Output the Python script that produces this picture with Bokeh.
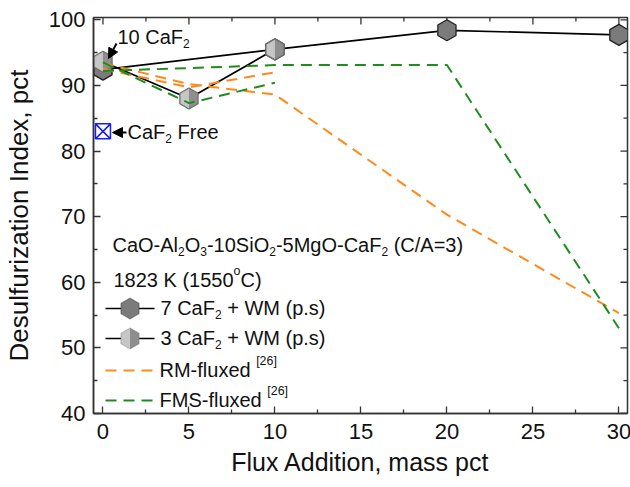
import math
from bokeh.plotting import figure
from bokeh.models import Range1d, FixedTicker, Label, Arrow, NormalHead, PolyAnnotation
from bokeh.embed import file_html
from bokeh.resources import INLINE

# ---- data -------------------------------------------------------------
flux_7caf2 = [0, 10, 20, 30]
di_7caf2 = [92.4, 95.5, 98.4, 97.7]

flux_3caf2 = [0, 5, 10]
di_3caf2 = [93.6, 88.0, 95.5]

flux_free = [0]
di_free = [83.0]

rm_short_x = [0, 5, 10]
rm_short_y = [92.5, 89.7, 92.0]
rm_long_x = [0, 5, 10, 20, 30]
rm_long_y = [93.4, 90.2, 88.6, 70.3, 55.3]

fms_long_x = [0, 10, 20, 30]
fms_long_y = [92.2, 93.1, 93.1, 53.0]
fms_short_x = [0, 5, 10]
fms_short_y = [93.5, 87.3, 90.4]

x_ticks = [0, 5, 10, 15, 20, 25, 30]
x_minor = [2.5, 7.5, 12.5, 17.5, 22.5, 27.5]
y_ticks = [40, 50, 60, 70, 80, 90, 100]
y_minor = [45, 55, 65, 75, 85, 95]

# ---- figure -----------------------------------------------------------
FONT = "Liberation Sans"
X0, X1 = -0.55, 30.5
Y0, Y1 = 40.0, 100.35
FW, FH = 534, 396
FL, FB = 91, 413  # frame left / bottom on the page
FRAME = "#333333"

p = figure(frame_width=FW, frame_height=FH,
           x_range=Range1d(X0, X1), y_range=Range1d(Y0, Y1),
           output_backend="svg", toolbar_location=None,
           min_border_left=FL, min_border_right=630 - FL - FW,
           min_border_top=FB - FH, min_border_bottom=487 - FB)
p.background_fill_color = "white"
p.border_fill_color = "white"
p.xgrid.visible = False
p.ygrid.visible = False
p.outline_line_color = FRAME
p.outline_line_width = 1.5

p.xaxis.ticker = FixedTicker(ticks=x_ticks, minor_ticks=x_minor)
p.yaxis.ticker = FixedTicker(ticks=y_ticks, minor_ticks=y_minor)
for ax in (p.xaxis[0], p.yaxis[0]):
    ax.axis_line_color = FRAME
    ax.axis_line_width = 1.5
    ax.major_tick_in = 7
    ax.major_tick_out = 0
    ax.minor_tick_in = 4
    ax.minor_tick_out = 0
    ax.major_tick_line_color = FRAME
    ax.minor_tick_line_color = FRAME
    ax.major_tick_line_width = 1.3
    ax.minor_tick_line_width = 1.3
    ax.major_label_text_font = FONT
    ax.major_label_text_font_size = "22px"
    ax.major_label_text_color = "#111111"
    ax.axis_label_text_font = FONT
    ax.axis_label_text_font_style = "normal"
    ax.axis_label_text_color = "#111111"
p.xaxis.axis_label = "Flux Addition, mass pct"
p.yaxis.axis_label = "Desulfurization Index, pct"
p.xaxis.axis_label_text_font_size = "25px"
p.yaxis.axis_label_text_font_size = "26px"
p.xaxis.major_label_standoff = 10
p.yaxis.major_label_standoff = 8
p.xaxis.axis_label_standoff = 6
p.yaxis.axis_label_standoff = 12

# mirrored inward ticks on the top and right edges of the frame
DX = (X1 - X0) / FW
DY = (Y1 - Y0) / FH
for ticks, ln in ((x_ticks, 7), (x_minor, 4)):
    p.segment(x0=ticks, y0=[Y1] * len(ticks), x1=ticks,
              y1=[Y1 - ln * DY] * len(ticks), line_color=FRAME, line_width=1.3)
for ticks, ln in ((y_ticks, 7), (y_minor, 4)):
    p.segment(x0=[X1] * len(ticks), y0=ticks, x1=[X1 - ln * DX] * len(ticks),
              y1=ticks, line_color=FRAME, line_width=1.3)

# ---- hexagon helpers (pointy top, radius in px) -------------------------
R_HEX = 10.5
FULL = [90, 30, -30, -90, -150, 150]
RIGHT_HALF = [90, 30, -30, -90]


def hex_patches(xs, ys, angles):
    px, py = [], []
    for x, y in zip(xs, ys):
        px.append([x + R_HEX * DX * math.cos(math.radians(a)) for a in angles])
        py.append([y + R_HEX * DY * math.sin(math.radians(a)) for a in angles])
    return px, py


def hex_screen(cx, cy, angles):
    return ([cx - FL + R_HEX * math.cos(math.radians(a)) for a in angles],
            [FB - cy + R_HEX * math.sin(math.radians(a)) for a in angles])


# ---- series -----------------------------------------------------------
p.line(flux_7caf2, di_7caf2, line_color="black", line_width=1.7)
p.line(flux_3caf2, di_3caf2, line_color="black", line_width=1.7)

DARK, LIGHT, MID = "#7b7b7b", "#c6c6c6", "#8e8e8e"
hx, hy = hex_patches(flux_7caf2, di_7caf2, FULL)
p.patches(hx, hy, fill_color=DARK, line_color="#222222", line_width=1.3)

hx, hy = hex_patches(flux_3caf2, di_3caf2, FULL)
p.patches(hx, hy, fill_color=LIGHT, line_color=None)
hx, hy = hex_patches(flux_3caf2, di_3caf2, RIGHT_HALF)
p.patches(hx, hy, fill_color=MID, line_color=None)
hx, hy = hex_patches(flux_3caf2, di_3caf2, FULL)
p.patches(hx, hy, fill_color=None, line_color="#6e6e6e", line_width=1.3)

ORANGE = "#ff8a1c"
GREEN = "#1e8c1e"
DASH = "11 7"
for xs, ys in ((rm_short_x, rm_short_y), (rm_long_x, rm_long_y)):
    p.line(xs, ys, line_color=ORANGE, line_width=2, line_dash=DASH)
for xs, ys in ((fms_short_x, fms_short_y), (fms_long_x, fms_long_y)):
    p.line(xs, ys, line_color=GREEN, line_width=2, line_dash=DASH)

p.scatter(flux_free, di_free, marker="square_x", size=15, fill_color=None,
          line_color="#1a1aff", line_width=1.5)

# ---- text helpers -----------------------------------------------------
W = {' ': 278, '(': 333, ')': 333, '+': 584, ',': 278, '-': 333, '.': 278,
     '/': 278, '=': 584, '[': 278, ']': 278, 'A': 667, 'C': 722, 'F': 611,
     'K': 667, 'M': 833, 'O': 778, 'R': 722, 'S': 667, 'W': 944, 'a': 556,
     'c': 500, 'd': 556, 'e': 556, 'f': 278, 'g': 556, 'i': 222, 'l': 222,
     'o': 556, 'p': 556, 'r': 333, 's': 500, 'u': 556, 'x': 500}


def text_width(s, size):
    return sum(W.get(ch, 556) for ch in s) * size / 1000.0


def rich_text(x, yc, runs, size=20):
    # baseline (page px, downward) that centres the capitals on yc
    base = yc + 0.36 * size - 0.4 * size
    for s, kind in runs:
        if kind == "sub":
            fs, dy = 0.6 * size, 0.32 * size
        elif kind == "sup":
            fs, dy = 0.62 * size, -0.42 * size
        else:
            fs, dy = size, 0.0
        lead = len(s) - len(s.lstrip(" "))
        x += text_width(" " * lead, fs)
        body = s.strip(" ")
        p.add_layout(Label(x=x - FL, y=FB - (base + dy), x_units="screen",
                           y_units="screen", text=body, text_font=FONT,
                           text_font_size=f"{fs:g}px", text_color="#111111",
                           text_align="left", text_baseline="alphabetic"))
        x += text_width(s.lstrip(" "), fs)


def seg(x1, y1, x2, y2, color, dash="solid", width=1.7):
    p.add_layout(Arrow(x_start=x1 - FL, y_start=FB - y1, x_end=x2 - FL,
                       y_end=FB - y2, start_units="screen", end_units="screen",
                       end=None, line_color=color, line_width=width,
                       line_dash=dash))


def pointer(x1, y1, x2, y2):
    p.add_layout(Arrow(x_start=x1 - FL, y_start=FB - y1, x_end=x2 - FL,
                       y_end=FB - y2, start_units="screen", end_units="screen",
                       line_color="black", line_width=2,
                       end=NormalHead(size=10, fill_color="black",
                                      line_color="black", line_width=1)))


# ---- call-outs ----------------------------------------------------------
rich_text(115, 37, [("10 CaF", "n"), ("2", "sub")], size=20)
pointer(114, 43, 106, 58)
rich_text(125, 132, [("CaF", "n"), ("2", "sub"), (" Free", "n")], size=20)
pointer(124, 132, 110, 132)

# ---- legend block -------------------------------------------------------
rich_text(110, 245, [("CaO-Al", "n"), ("2", "sub"), ("O", "n"), ("3", "sub"),
                     ("-10SiO", "n"), ("2", "sub"), ("-5MgO-CaF", "n"),
                     ("2", "sub"), (" (C/A=3)", "n")])
rich_text(111, 280, [("1823 K (1550", "n"), ("o", "sup"), ("C)", "n")])

LX1, LX2, LMID, LTX = 103, 152, 127.5, 158
seg(LX1, 308, LX2, 308, "black")
xs, ys = hex_screen(LMID, 308, FULL)
p.add_layout(PolyAnnotation(xs=xs, ys=ys, xs_units="screen", ys_units="screen",
                            fill_color=DARK, fill_alpha=1,
                            line_color="#222222", line_width=1.3))
rich_text(LTX, 308, [("7 CaF", "n"), ("2", "sub"), (" + WM (p.s)", "n")])

seg(LX1, 338, LX2, 338, "black")
xs, ys = hex_screen(LMID, 338, FULL)
p.add_layout(PolyAnnotation(xs=xs, ys=ys, xs_units="screen", ys_units="screen",
                            fill_color=LIGHT, fill_alpha=1, line_color=None))
xs, ys = hex_screen(LMID, 338, RIGHT_HALF)
p.add_layout(PolyAnnotation(xs=xs, ys=ys, xs_units="screen", ys_units="screen",
                            fill_color=MID, fill_alpha=1, line_color=None))
xs, ys = hex_screen(LMID, 338, FULL)
p.add_layout(PolyAnnotation(xs=xs, ys=ys, xs_units="screen", ys_units="screen",
                            fill_alpha=0, line_color="#6e6e6e", line_width=1.3))
rich_text(LTX, 338, [("3 CaF", "n"), ("2", "sub"), (" + WM (p.s)", "n")])

seg(LX1, 370, LX2, 370, ORANGE, DASH, 2)
rich_text(157, 370, [("RM-fluxed ", "n"), ("[26]", "sup")])
seg(LX1, 400, LX2, 400, GREEN, DASH, 2)
rich_text(157, 400, [("FMS-fluxed ", "n"), ("[26]", "sup")])

open("out.html", "w").write(file_html(p, INLINE))
